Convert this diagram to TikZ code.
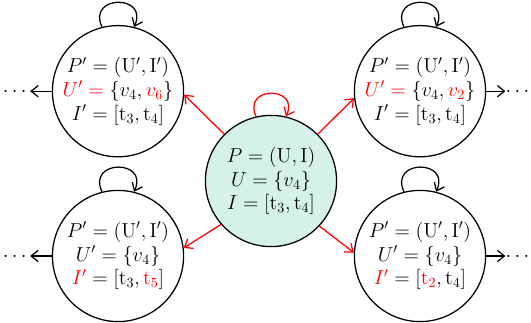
\documentclass[tikz,border=0pt]{standalone}
\usepackage{amsmath,xcolor}
\usetikzlibrary{arrows.meta,positioning}
\definecolor{chg}{HTML}{FF0000}
\definecolor{cur}{HTML}{D4F1EA}

\begin{document}
\begin{tikzpicture}[
    stnode/.style={circle,draw,line width=0.9pt,minimum size=3.28cm,inner sep=0pt,align=center,font=\fontsize{14.4}{17}\selectfont},
    dotsnd/.style={inner sep=0pt,text height=7.2pt,text depth=0pt,font=\fontsize{14.4}{17}\selectfont},
    selfarc/.style={-{Straight Barb[length=5pt,width=8pt]},line width=0.9pt},
    nxt/.style={-{Straight Barb[length=5pt,width=8pt]},line width=0.9pt},
    chgarr/.style={-{Straight Barb[length=5pt,width=8pt]},line width=0.9pt,chg}
]
\useasboundingbox (0,0) rectangle (13.275,8.05);

% Current state
\node[stnode,fill=cur] (cur) at (6.775,3.525) {$P = (\mathrm{U}, \mathrm{I})$\\ $U = \{v_4\}$\\ $I = [\mathrm{t}_3, \mathrm{t}_4]$};

% Next states
\node[stnode] (ul) at (2.95,5.77) {$P' = (\mathrm{U}', \mathrm{I}')$\\ $\textcolor{chg}{U'} \mathrel{\textcolor{chg}{=}} \{v_4, \textcolor{chg}{v_6}\}$\\ $I' = [\mathrm{t}_3, \mathrm{t}_4]$};
\node[stnode] (ur) at (10.5,5.77) {$P' = (\mathrm{U}', \mathrm{I}')$\\ $\textcolor{chg}{U'} \mathrel{\textcolor{chg}{=}} \{v_4, \textcolor{chg}{v_2}\}$\\ $I' = [\mathrm{t}_3, \mathrm{t}_4]$};
\node[stnode] (bl) at (2.95,1.65) {$P' = (\mathrm{U}', \mathrm{I}')$\\ $U' = \{v_4\}$\\ $\textcolor{chg}{I'} = [\mathrm{t}_3, \textcolor{chg}{\mathrm{t}_5}]$};
\node[stnode] (br) at (10.5,1.65) {$P' = (\mathrm{U}', \mathrm{I}')$\\ $U' = \{v_4\}$\\ $\textcolor{chg}{I'} = [\textcolor{chg}{\mathrm{t}_2}, \mathrm{t}_4]$};

% Transitions
\draw[chgarr] (cur.135) -- (ul.-3);
\draw[chgarr] (cur.45) -- (ur.186);
\draw[chgarr] (cur.221) -- (bl.7);
\draw[chgarr] (cur.317) -- (br.177);

% Self loops
\draw[selfarc,chg] (cur.103) .. controls +(115:0.85) and +(65:0.85) .. (cur.77);
\foreach \s in {ul,ur,bl,br} {
    \draw[selfarc] (\s.104) .. controls +(115:0.9) and +(65:0.9) .. (\s.76);
}

% Further steps
\node[dotsnd] (ulx) at (0.41,5.77) {$\cdots$};
\node[dotsnd] (blx) at (0.41,1.65) {$\cdots$};
\node[dotsnd] (urx) at (12.98,5.77) {$\cdots$};
\node[dotsnd] (brx) at (12.98,1.65) {$\cdots$};
\draw[nxt] (ul.west) -- (ulx.east);
\draw[nxt] (bl.west) -- (blx.east);
\draw[nxt] (ur.east) -- (urx.west);
\draw[nxt] (br.east) -- (brx.west);
\end{tikzpicture}
\end{document}
